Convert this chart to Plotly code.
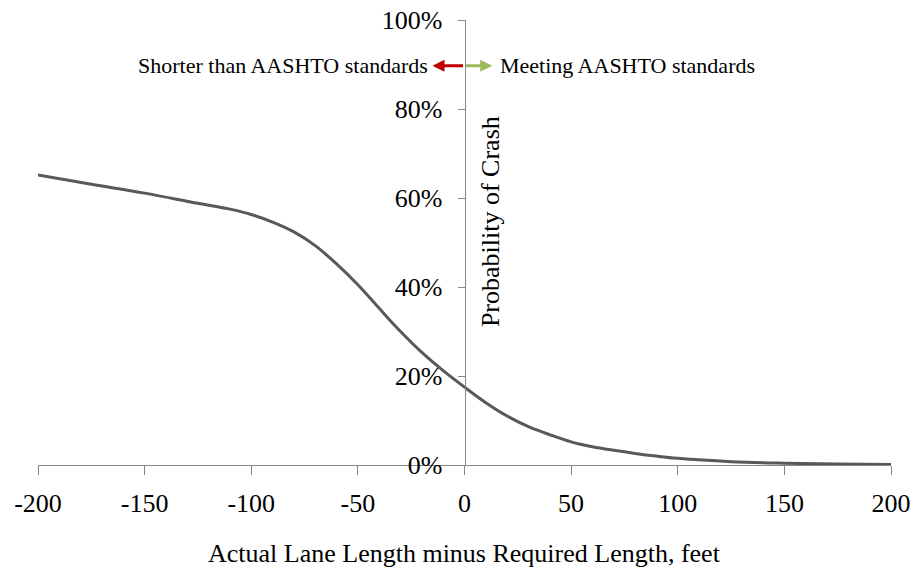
import plotly.graph_objects as go

# Data
length_diff_ft = [-200, -175, -150, -125, -110, -100, -90, -80, -70, -60, -50, -40, -30, -20, -10, 0,
                  10, 20, 30, 40, 50, 60, 70, 80, 90, 100, 125, 150, 175, 200]
crash_prob = [0.652, 0.631, 0.611, 0.588, 0.575, 0.563, 0.546, 0.524, 0.493, 0.452, 0.405, 0.352, 0.300,
              0.253, 0.212, 0.175, 0.140, 0.110, 0.086, 0.068, 0.052, 0.041, 0.033, 0.026, 0.020, 0.015,
              0.0075, 0.004, 0.002, 0.001]

x_ticks = [-200, -150, -100, -50, 0, 50, 100, 150, 200]
y_ticks = [0, 0.2, 0.4, 0.6, 0.8, 1.0]
y_tick_labels = ["0%", "20%", "40%", "60%", "80%", "100%"]

x_title = "Actual Lane Length minus Required Length, feet"
y_title = "Probability of Crash"
left_label = "Shorter than AASHTO standards"
right_label = "Meeting AASHTO standards"
arrow_y = 0.897
arrow_left_x = -15
arrow_right_x = 13

FONT = "Liberation Serif"
AXIS_COLOR = "#868686"

fig = go.Figure()
fig.add_trace(go.Scatter(
    x=length_diff_ft, y=crash_prob, mode="lines",
    line=dict(color="#595959", width=3, shape="spline", smoothing=1.0),
    cliponaxis=False, showlegend=False, hoverinfo="skip"))

fig.update_layout(
    width=915, height=571,
    margin=dict(l=38, r=24, t=20, b=106, autoexpand=False),
    paper_bgcolor="white", plot_bgcolor="white",
    font=dict(family=FONT, color="black"),
    hovermode=False,
    xaxis=dict(range=[-200, 200], tickvals=x_ticks, ticktext=[str(v) for v in x_ticks],
               showgrid=False, zeroline=False, showline=True, linecolor=AXIS_COLOR, linewidth=1,
               ticks="outside", ticklen=9, tickcolor=AXIS_COLOR, tickwidth=1, automargin=False,
               ticklabeloverflow="allow",
               tickfont=dict(family=FONT, size=26, color="black"), ticklabelstandoff=6),
    yaxis=dict(range=[0, 1], tickvals=y_ticks, ticktext=y_tick_labels,
               anchor="free", position=0.5, side="left", automargin=False,
               ticklabeloverflow="allow",
               showgrid=False, zeroline=False, showline=True, linecolor=AXIS_COLOR, linewidth=1,
               ticks="outside", ticklen=7, tickcolor=AXIS_COLOR, tickwidth=1,
               tickfont=dict(family=FONT, size=26, color="black"), ticklabelstandoff=10),
)

# arrows
fig.add_annotation(x=arrow_left_x, y=arrow_y, ax=0, ay=arrow_y, axref="x", ayref="y",
                   xref="x", yref="y", text="", showarrow=True, arrowhead=2, arrowsize=0.8,
                   arrowwidth=3, arrowcolor="#C00000")
fig.add_annotation(x=arrow_right_x, y=arrow_y, ax=0, ay=arrow_y, axref="x", ayref="y",
                   xref="x", yref="y", text="", showarrow=True, arrowhead=2, arrowsize=0.8,
                   arrowwidth=3, arrowcolor="#9BBB59")
fig.add_annotation(x=arrow_left_x, y=arrow_y, xref="x", yref="y", text=left_label,
                   showarrow=False, xanchor="right", yanchor="middle", xshift=-3,
                   font=dict(family=FONT, size=22, color="black"))
fig.add_annotation(x=arrow_right_x, y=arrow_y, xref="x", yref="y", text=right_label,
                   showarrow=False, xanchor="left", yanchor="middle", xshift=6,
                   font=dict(family=FONT, size=22, color="black"))

# axis titles
fig.add_annotation(x=0.5, y=-0.198, xref="paper", yref="paper", text=x_title,
                   showarrow=False, xanchor="center", yanchor="middle",
                   font=dict(family=FONT, size=26, color="black"))
fig.add_annotation(x=0.530, y=0.546, xref="paper", yref="paper", text=y_title, textangle=-90,
                   showarrow=False, xanchor="center", yanchor="middle",
                   font=dict(family=FONT, size=26, color="black"))

# remove the default page margin so the figure sits at the window's top-left corner
fig.write_html("out.html", config={"displayModeBar": False},
               post_script="document.body.style.margin='0px';")
